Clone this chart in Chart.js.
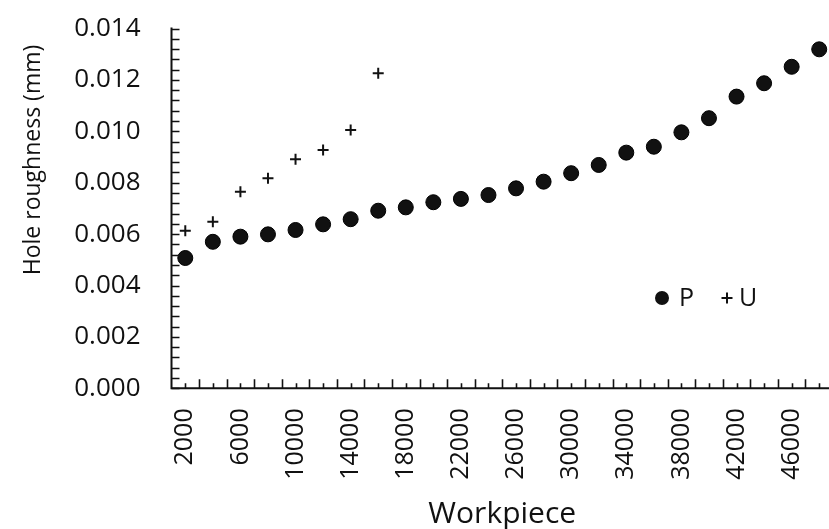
<!DOCTYPE html>
<html>
<head>
<meta charset="utf-8">
<script src="https://cdn.jsdelivr.net/npm/chart.js@4.4.1/dist/chart.umd.min.js"></script>
<style>
  html, body { margin: 0; padding: 0; background: #fff; overflow: hidden; }
  /* the source plot runs a few pixels past the right edge of the picture */
  #chart { display: block; }
</style>
</head>
<body>
<canvas id="chart" width="833" height="529"></canvas>
<script>
// workpiece count (category axis)
const workpiece = [
  '2000', '4000', '6000', '8000', '10000', '12000', '14000', '16000',
  '18000', '20000', '22000', '24000', '26000', '28000', '30000', '32000',
  '34000', '36000', '38000', '40000', '42000', '44000', '46000', '48000'
];

// hole roughness (mm), series P
const roughnessP = [
  0.00507, 0.00570, 0.00590, 0.00599, 0.00616, 0.00638, 0.00658, 0.00691,
  0.00704, 0.00724, 0.00737, 0.00752, 0.00778, 0.00804, 0.00837, 0.00869,
  0.00917, 0.00940, 0.00996, 0.01051, 0.01135, 0.01187, 0.01251, 0.01319
];

// hole roughness (mm), series U - stops after 16000
const roughnessU = [
  0.00613, 0.00648, 0.00765, 0.00817, 0.00891, 0.00927, 0.01005, 0.01226,
  null, null, null, null, null, null, null, null,
  null, null, null, null, null, null, null, null
];

const yMin = 0;
const yMax = 0.014;
const yStep = 0.002;
const yMinorStep = 0.0004;

const ink = '#111';
const FONT = 'Open Sans';

// axes are drawn by hand: inward ticks, alternating lengths on x
const axesPlugin = {
  id: 'axes',
  afterDraw(chart) {
    const { ctx, chartArea: a, scales } = chart;
    const x = scales.x, y = scales.y;
    ctx.save();
    ctx.strokeStyle = ink;
    ctx.lineWidth = 2;
    ctx.beginPath();
    ctx.moveTo(a.left, a.top - 1);
    ctx.lineTo(a.left, a.bottom);
    ctx.lineTo(a.right, a.bottom);
    ctx.stroke();

    ctx.lineWidth = 1.6;
    ctx.beginPath();
    const nMinor = Math.round((yMax - yMin) / yMinorStep);
    for (let i = 0; i <= nMinor; i++) {
      const py = Math.round(y.getPixelForValue(yMin + i * yMinorStep)) + 0.5;
      ctx.moveTo(a.left, py);
      ctx.lineTo(a.left + 8, py);
    }
    const half = (x.getPixelForValue(1) - x.getPixelForValue(0)) / 2;
    for (let i = 0; i < workpiece.length; i++) {
      const cx = x.getPixelForValue(i);
      ctx.moveTo(Math.round(cx) + 0.5, a.bottom);
      ctx.lineTo(Math.round(cx) + 0.5, a.bottom - 5);
      const bx = Math.round(cx + half) + 0.5;
      ctx.moveTo(bx, a.bottom);
      ctx.lineTo(bx, a.bottom - 9);
    }
    ctx.stroke();

    // y title, sits above the axis middle like the original
    ctx.fillStyle = ink;
    ctx.font = '23px "' + FONT + '"';
    ctx.textAlign = 'center';
    ctx.textBaseline = 'middle';
    ctx.translate(33, 160);
    ctx.rotate(-Math.PI / 2);
    ctx.fillText('Hole roughness (mm)', 0, 0);
    ctx.restore();

    // legend inside the plot
    ctx.save();
    const ly = a.top + 269.5;
    const sets = chart.data.datasets;
    ctx.font = '25px "' + FONT + '"';
    ctx.textBaseline = 'middle';
    ctx.textAlign = 'left';
    ctx.fillStyle = ink;
    ctx.strokeStyle = ink;
    ctx.lineWidth = 2;
    Chart.helpers.drawPoint(ctx, { pointStyle: 'circle', radius: 6, borderWidth: 1 }, a.right - 171, ly);
    ctx.fillText(sets[0].label, a.right - 154, ly + 1);
    Chart.helpers.drawPoint(ctx, { pointStyle: 'cross', radius: 5.5, borderWidth: 2 }, a.right - 106, ly);
    ctx.fillText(sets[1].label, a.right - 94, ly + 1);
    ctx.restore();
  }
};

new Chart(document.getElementById('chart'), {
  type: 'scatter',
  data: {
    labels: workpiece,
    datasets: [
      {
        label: 'P',
        data: roughnessP,
        pointStyle: 'circle',
        pointRadius: 7.5,
        pointBackgroundColor: ink,
        pointBorderColor: '#000',
        pointBorderWidth: 1,
        showLine: false
      },
      {
        label: 'U',
        data: roughnessU,
        pointStyle: 'cross',
        pointRadius: 5.5,
        pointBorderColor: ink,
        pointBorderWidth: 2,
        showLine: false
      }
    ]
  },
  options: {
    responsive: false,
    animation: false,
    devicePixelRatio: 1,
    layout: { autoPadding: false, padding: { top: 28.5, right: 0, bottom: 0, left: 0 } },
    plugins: {
      legend: { display: false },
      tooltip: { enabled: false }
    },
    scales: {
      x: {
        type: 'category',
        offset: true,
        grid: { display: false, drawTicks: false },
        border: { display: false },
        ticks: {
          autoSkip: false,
          minRotation: 90,
          maxRotation: 90,
          padding: 20,
          color: ink,
          font: { family: FONT, size: 25 },
          callback(v, i) { return i % 2 === 0 ? this.getLabelForValue(v) : ''; }
        },
        title: {
          display: true,
          text: 'Workpiece',
          color: ink,
          font: { family: FONT, size: 30, lineHeight: 1 },
          padding: { top: 0, bottom: 0 }
        },
        afterFit(s) {
          s.height = 140.7;
          s.paddingLeft = 0;
          s.paddingRight = 0;
        }
      },
      y: {
        type: 'linear',
        min: yMin,
        max: yMax,
        grid: { display: false, drawTicks: false },
        border: { display: false },
        ticks: {
          stepSize: yStep,
          padding: 31,
          color: ink,
          font: { family: FONT, size: 26 },
          callback: v => v.toFixed(3)
        },
        afterFit(s) {
          s.width = 171.5;
          s.paddingTop = 0;
          s.paddingBottom = 0;
        }
      }
    }
  },
  plugins: [axesPlugin]
});
</script>
</body>
</html>
